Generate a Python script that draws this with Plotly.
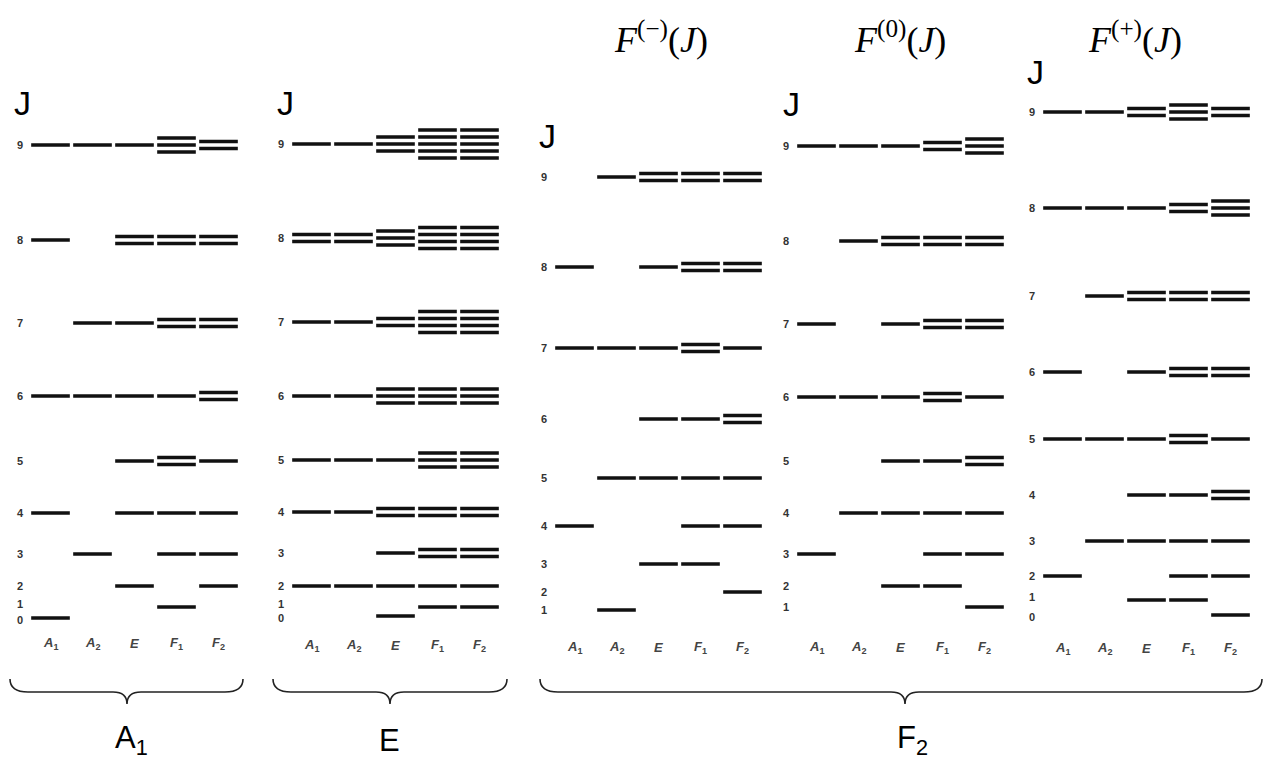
import plotly.graph_objects as go

W, H = 1269, 765

# ---------------- data ----------------
columns = ["A1", "A2", "E", "F1", "F2"]
column_labels = ["<i>A</i><sub>1</sub>", "<i>A</i><sub>2</sub>", "<i>E</i>", "<i>F</i><sub>1</sub>", "<i>F</i><sub>2</sub>"]

# rotational levels J, with level heights (arbitrary energy units)
J_A1 = [0, 1, 2, 3, 4, 5, 6, 7, 8, 9]
E_A1 = [1, 12, 33, 65, 106, 158, 223, 296, 379, 474]
# number of sublevels per symmetry [A1, A2, E, F1, F2] for each J
N_A1 = [[1, 0, 0, 0, 0], [0, 0, 0, 1, 0], [0, 0, 1, 0, 1], [0, 1, 0, 1, 1], [1, 0, 1, 1, 1],
        [0, 0, 1, 2, 1], [1, 1, 1, 1, 2], [0, 1, 1, 2, 2], [1, 0, 2, 2, 2], [1, 1, 1, 3, 2]]

J_E = [0, 1, 2, 3, 4, 5, 6, 7, 8, 9]
E_E = [3, 12, 33, 66, 107, 159, 223, 297, 381, 475]
N_E = [[0, 0, 1, 0, 0], [0, 0, 0, 1, 1], [1, 1, 1, 1, 1], [0, 0, 1, 2, 2], [1, 1, 2, 2, 2],
       [1, 1, 1, 3, 3], [1, 1, 3, 3, 3], [1, 1, 2, 4, 4], [2, 2, 3, 4, 4], [1, 1, 3, 5, 5]]

J_Fm = [1, 2, 3, 4, 5, 6, 7, 8, 9]
E_Fm = [9, 27, 55, 93, 141, 200, 271, 352, 442]
N_Fm = [[0, 1, 0, 0, 0], [0, 0, 0, 0, 1], [0, 0, 1, 1, 0], [1, 0, 0, 1, 1], [0, 1, 1, 1, 1],
        [0, 0, 1, 1, 2], [1, 1, 1, 2, 1], [1, 0, 1, 2, 2], [0, 1, 2, 2, 2]]

J_F0 = [1, 2, 3, 4, 5, 6, 7, 8, 9]
E_F0 = [12, 33, 65, 106, 158, 222, 295, 378, 473]
N_F0 = [[0, 0, 0, 0, 1], [0, 0, 1, 1, 0], [1, 0, 0, 1, 1], [0, 1, 1, 1, 1], [0, 0, 1, 1, 2],
        [1, 1, 1, 2, 1], [1, 0, 1, 2, 2], [0, 1, 2, 2, 2], [1, 1, 1, 2, 3]]

J_Fp = [0, 1, 2, 3, 4, 5, 6, 7, 8, 9]
E_Fp = [4, 19, 43, 78, 124, 180, 247, 323, 411, 507]
N_Fp = [[0, 0, 0, 0, 1], [0, 0, 1, 1, 0], [1, 0, 0, 1, 1], [0, 1, 1, 1, 1], [0, 0, 1, 1, 2],
        [1, 1, 1, 2, 1], [1, 0, 1, 2, 2], [0, 1, 2, 2, 2], [1, 1, 1, 2, 3], [1, 1, 2, 3, 2]]

panel_titles = ["", "", "<i>F</i><sup>(\u2212)</sup>(<i>J</i>)", "<i>F</i><sup>(0)</sup>(<i>J</i>)",
                "<i>F</i><sup>(+)</sup>(<i>J</i>)"]
group_labels = ["A<sub>1</sub>", "E", "F<sub>2</sub>"]

# ---------------- layout helpers (style / positions) ----------------
panels = [(J_A1, E_A1, N_A1), (J_E, E_E, N_E), (J_Fm, E_Fm, N_Fm), (J_F0, E_F0, N_F0), (J_Fp, E_Fp, N_Fp)]
first_col_px = [50.5, 311.5, 574.5, 816.5, 1062.5]
col_step_px = 42.0
xr = (-0.9, 4.7)
yr = (619 - H, 619)
sub_gap = 7.0       # separation between stacked sublevels (energy units)
half_len = 0.46
label_y = [-24, -26, -28, -28, -29]
bigJ_pos = [(23, 103), (285, 103), (547, 136), (791, 104), (1035, 72)]
title_pos = [None, None, (661, 37), (900, 37), (1135, 37)]

fig = go.Figure()

def px(x):
    return x / W

def py(y):
    return 1 - y / H

annotations = []
for k, (Js, Es, Ns) in enumerate(panels, start=1):
    xa = "x" if k == 1 else f"x{k}"
    ya = "y" if k == 1 else f"y{k}"
    xs, ys = [], []
    for J, e, counts in zip(Js, Es, Ns):
        for c, n in enumerate(counts):
            for i in range(n):
                yy = e + (i - (n - 1) / 2) * sub_gap
                xs += [c - half_len, c + half_len, None]
                ys += [yy, yy, None]
    fig.add_trace(go.Scatter(x=xs, y=ys, mode="lines", xaxis=xa, yaxis=ya,
                             line=dict(color="#111111", width=3.5), hoverinfo="skip",
                             showlegend=False))
    x0 = first_col_px[k - 1] + xr[0] * col_step_px
    x1 = first_col_px[k - 1] + xr[1] * col_step_px
    fig.update_layout(**{
        ("xaxis" if k == 1 else f"xaxis{k}"): dict(domain=[px(x0), min(px(x1), 1)], range=list(xr),
                                                   visible=False, anchor=ya, fixedrange=True),
        ("yaxis" if k == 1 else f"yaxis{k}"): dict(domain=[0, 1], range=list(yr), visible=False,
                                                   anchor=xa, fixedrange=True),
    })
    # J numbers
    has_zero = 0 in Js
    for J, e in zip(Js, Es):
        shift = 0
        if has_zero and J == 0:
            shift = -2
        elif has_zero and J == 1:
            shift = 3
        annotations.append(dict(x=-0.72, y=e, xref=xa, yref=ya, text=f"<b>{J}</b>", showarrow=False,
                                yshift=shift,
                                font=dict(family="Liberation Sans", size=11, color="#333333")))
    # column labels
    for c, lab in enumerate(column_labels):
        annotations.append(dict(x=c, y=label_y[k - 1], xref=xa, yref=ya, text=f"<b>{lab}</b>",
                                showarrow=False,
                                font=dict(family="Liberation Sans", size=13, color="#444444")))
    # big J
    bx, by = bigJ_pos[k - 1]
    annotations.append(dict(x=px(bx), y=py(by), xref="paper", yref="paper", text="J", showarrow=False,
                            xanchor="center", yanchor="middle",
                            font=dict(family="Liberation Sans", size=34, color="#000000")))
    if title_pos[k - 1]:
        tx, ty = title_pos[k - 1]
        annotations.append(dict(x=px(tx), y=py(ty), xref="paper", yref="paper", text=panel_titles[k - 1],
                                showarrow=False, xanchor="center", yanchor="middle",
                                font=dict(family="Liberation Serif", size=36, color="#000000")))

# braces
braces = [(10, 243, 127), (273, 507, 390), (540, 1262, 905)]
brace_label_x = [131, 389, 912]
shapes = []
for (a, b, m), lx, lab in zip(braces, brace_label_x, group_labels):
    ytop, ymid, ytip = 679, 692, 704
    pts = (f"M {px(a)},{py(ytop)} Q {px(a)},{py(ymid)} {px(a + 18)},{py(ymid)} "
           f"L {px(m - 14)},{py(ymid)} Q {px(m)},{py(ymid)} {px(m)},{py(ytip)} "
           f"Q {px(m)},{py(ymid)} {px(m + 14)},{py(ymid)} "
           f"L {px(b - 18)},{py(ymid)} Q {px(b)},{py(ymid)} {px(b)},{py(ytop)}")
    shapes.append(dict(type="path", path=pts, xref="paper", yref="paper",
                       line=dict(color="#222222", width=1.6)))
    annotations.append(dict(x=px(lx), y=py(740), xref="paper", yref="paper", text=lab, showarrow=False,
                            xanchor="center", yanchor="middle",
                            font=dict(family="Liberation Sans", size=31, color="#000000")))

fig.update_layout(width=W, height=H, margin=dict(l=0, r=0, t=0, b=0),
                  plot_bgcolor="white", paper_bgcolor="white",
                  annotations=annotations, shapes=shapes, showlegend=False)

fig.write_html("out.html", config={"displayModeBar": False},
               post_script="document.body.style.margin='0px';document.body.style.padding='0px';"
                           "document.body.style.overflow='hidden';")
